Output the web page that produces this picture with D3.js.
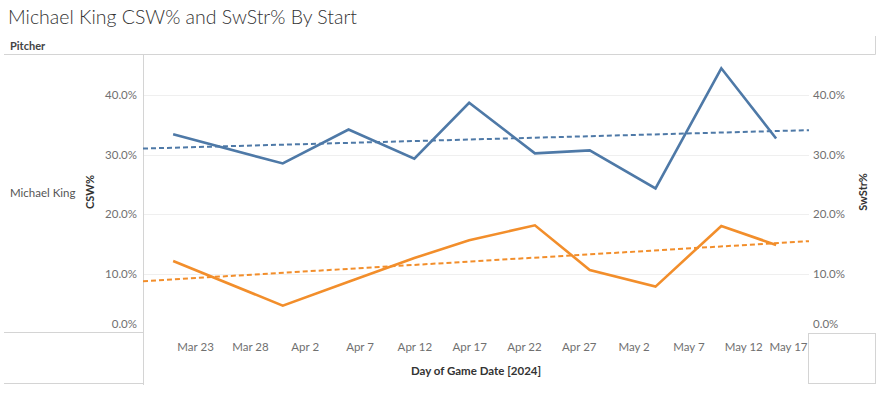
<!DOCTYPE html>
<html>
<head>
<meta charset="utf-8">
<script src="https://cdnjs.cloudflare.com/ajax/libs/d3/7.8.5/d3.min.js"></script>
<style>
  body { margin: 0; background: #fff; font-family: Lato, "Open Sans", sans-serif; }
  svg { display: block; }
  .tick text { fill: #707070; font-size: 11.5px; font-family: Lato, "Open Sans", sans-serif; }
</style>
</head>
<body>
<svg id="chart" width="881" height="394"></svg>
<script>
// start dates (2024) and values
var startDates = ["2024-03-21", "2024-03-31", "2024-04-06", "2024-04-12", "2024-04-17",
                  "2024-04-23", "2024-04-28", "2024-05-04", "2024-05-10", "2024-05-15"];
var cswPct   = [0.334, 0.285, 0.342, 0.293, 0.387, 0.302, 0.307, 0.243, 0.445, 0.327];
var swStrPct = [0.121, 0.046, 0.086, 0.126, 0.156, 0.181, 0.106, 0.078, 0.180, 0.148];
var tickDates = ["2024-03-23", "2024-03-28", "2024-04-02", "2024-04-07", "2024-04-12", "2024-04-17",
                 "2024-04-22", "2024-04-27", "2024-05-02", "2024-05-07", "2024-05-12", "2024-05-17"];
var yTicks = [0, 0.1, 0.2, 0.3, 0.4];

var parse = d3.timeParse("%Y-%m-%d");
var dates = startDates.map(parse);

var svg = d3.select("#chart");
var plotL = 143, plotR = 809, plotT = 54, plotB = 333;

var x = d3.scaleTime()
  .domain([new Date(2024, 2, 18, 6), new Date(2024, 4, 18)])
  .range([plotL, plotR]);
var y = d3.scaleLinear().domain([0, 0.469]).range([plotB, plotT]);

var blue = "#4e79a7", orange = "#f28e2b", border = "#d4d4d4";

// title and header
svg.append("text").attr("x", 8).attr("y", 24)
  .attr("font-size", 19.5).attr("font-weight", 300).attr("fill", "#333")
  .text("Michael King CSW% and SwStr% By Start");
svg.append("text").attr("x", 10).attr("y", 50)
  .attr("font-size", 11).attr("font-weight", 700).attr("fill", "#444")
  .text("Pitcher");

// gridlines
svg.append("g").selectAll("line").data(yTicks.slice(1)).join("line")
  .attr("x1", plotL).attr("x2", plotR)
  .attr("y1", d => Math.round(y(d)) + 0.5).attr("y2", d => Math.round(y(d)) + 0.5)
  .attr("stroke", "#efefef").attr("stroke-width", 1);

// frame lines
var frame = svg.append("g").attr("stroke", border).attr("stroke-width", 1).attr("fill", "none");
frame.append("line").attr("x1", 4).attr("x2", 875.5).attr("y1", 54.5).attr("y2", 54.5);
frame.append("line").attr("x1", 875.5).attr("x2", 875.5).attr("y1", 36).attr("y2", 54.5);
frame.append("line").attr("x1", 143.5).attr("x2", 143.5).attr("y1", 54.5).attr("y2", 385);
frame.append("line").attr("x1", 4).attr("x2", 143.5).attr("y1", 332.5).attr("y2", 332.5);
frame.append("line").attr("x1", 4).attr("x2", 143.5).attr("y1", 383.5).attr("y2", 383.5);
frame.append("rect").attr("x", 808.5).attr("y", 333.5).attr("width", 67).attr("height", 50);

// row label
svg.append("text").attr("x", 10).attr("y", 197)
  .attr("font-size", 11.5).attr("fill", "#555").text("Michael King");

// y axes
var fmt = d3.format(".1%");
var yl = svg.append("g").attr("transform", "translate(" + (plotL - 6) + ",0)")
  .call(d3.axisLeft(y).tickValues(yTicks).tickFormat(fmt).tickSize(0).tickPadding(0));
var yr = svg.append("g").attr("transform", "translate(" + (plotR + 4) + ",0)")
  .call(d3.axisRight(y).tickValues(yTicks).tickFormat(fmt).tickSize(0).tickPadding(0));
[yl, yr].forEach(function(g) {
  g.select(".domain").remove();
  g.selectAll(".tick").filter(d => d === 0).select("text").attr("dy", "-0.45em");
});

// x axis
var xa = svg.append("g").attr("transform", "translate(0," + 343 + ")")
  .call(d3.axisBottom(x).tickValues(tickDates.map(parse)).tickFormat(d3.timeFormat("%b %-d"))
    .tickSize(0).tickPadding(0));
xa.select(".domain").remove();
xa.selectAll(".tick text").attr("dy", "0.71em");
xa.selectAll(".tick").filter((d, i) => i === tickDates.length - 1)
  .select("text").attr("text-anchor", "end").attr("dx", plotR - 2 - x(parse(tickDates[tickDates.length - 1])));

// axis titles
svg.append("text").attr("transform", "translate(94,192) rotate(-90)")
  .attr("text-anchor", "middle").attr("font-size", 11).attr("font-weight", 700).attr("fill", "#333")
  .text("CSW%");
svg.append("text").attr("transform", "translate(867,192) rotate(-90)")
  .attr("text-anchor", "middle").attr("font-size", 11).attr("font-weight", 700).attr("fill", "#333")
  .text("SwStr%");
svg.append("text").attr("x", (plotL + plotR) / 2).attr("y", 375)
  .attr("text-anchor", "middle").attr("font-size", 11.5).attr("font-weight", 700).attr("fill", "#333")
  .text("Day of Game Date [2024]");

// linear trend over the whole axis
function trend(vals) {
  var xs = dates.map(d => +d);
  var mx = d3.mean(xs), my = d3.mean(vals);
  var num = d3.sum(xs, (v, i) => (v - mx) * (vals[i] - my));
  var den = d3.sum(xs, v => (v - mx) * (v - mx));
  var b = num / den, a = my - b * mx;
  return x.domain().map(d => [d, a + b * (+d)]);
}

var line = d3.line().x(d => x(d[0])).y(d => y(d[1]));
var series = [{ vals: cswPct, color: blue }, { vals: swStrPct, color: orange }];
series.forEach(function(s) {
  svg.append("path").datum(trend(s.vals)).attr("d", line)
    .attr("fill", "none").attr("stroke", s.color).attr("stroke-width", 2)
    .attr("stroke-dasharray", "5,3");
  svg.append("path").datum(dates.map((d, i) => [d, s.vals[i]])).attr("d", line)
    .attr("fill", "none").attr("stroke", s.color).attr("stroke-width", 2.6)
    .attr("stroke-linejoin", "miter");
});
</script>
</body>
</html>
